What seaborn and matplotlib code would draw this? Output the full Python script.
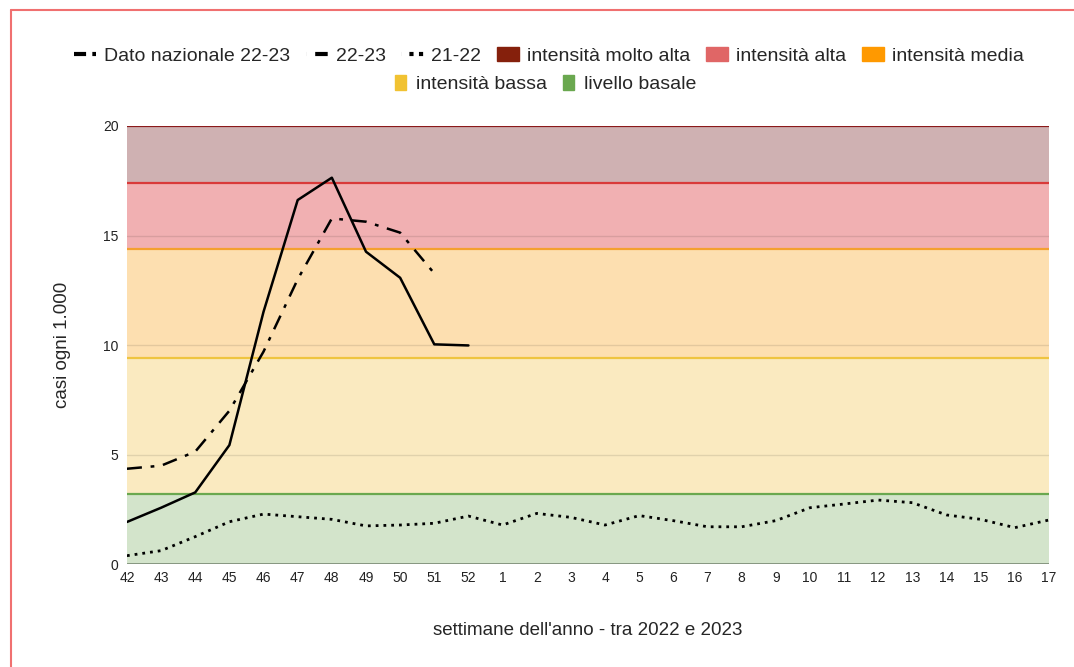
import numpy as np
import pandas as pd
import matplotlib.pyplot as plt
import seaborn as sns
from matplotlib.lines import Line2D
from matplotlib.patches import Patch

# weeks on the x axis
weeks = ['42', '43', '44', '45', '46', '47', '48', '49', '50', '51', '52',
         '1', '2', '3', '4', '5', '6', '7', '8', '9', '10', '11', '12', '13',
         '14', '15', '16', '17']

# series
nazionale_2223 = [4.35, 4.49, 5.13, 7.0, 9.7, 13.0, 15.78, 15.63, 15.13, 13.27]
regione_2223 = [1.92, 2.57, 3.27, 5.43, 11.52, 16.62, 17.64, 14.26, 13.07, 10.03, 9.98]
regione_2122 = [0.38, 0.61, 1.25, 1.93, 2.28, 2.16, 2.04, 1.74, 1.78, 1.86, 2.19,
                1.78, 2.31, 2.13, 1.78, 2.21, 1.98, 1.70, 1.70, 1.98, 2.57, 2.74,
                2.92, 2.80, 2.24, 2.04, 1.66, 2.01]

# intensity thresholds
soglie = [0, 3.2, 9.4, 14.4, 17.4, 20]
livelli = ['livello basale', 'intensità bassa', 'intensità media',
           'intensità alta', 'intensità molto alta']
col_linea = ['#6aa84f', '#f1c232', '#ff9900', '#e06666', '#85200c']
col_fill = ['#d3e4cb', '#faeac0', '#fddfb0', '#f1b0b2', '#cfb1b2']
col_bordo = ['#6aa84f', '#efc440', '#f4a030', '#d93a3a', '#8b1a1a']

sns.set_style('white')
plt.rcParams['font.family'] = ['Liberation Sans', 'DejaVu Sans']

fig, ax = plt.subplots(figsize=(10.74, 6.67), dpi=100)
fig.subplots_adjust(left=0.1182, right=0.9767, top=0.8111, bottom=0.1544)

for i in range(5):
    ax.axhspan(soglie[i], soglie[i + 1], color=col_fill[i], lw=0, zorder=0)
    ax.axhline(soglie[i + 1], color=col_bordo[i], lw=1.6, zorder=1)
for g in [5, 10, 15]:
    ax.axhline(g, color='black', alpha=0.1, lw=1, zorder=1)
ax.axhline(0, color='#7f8f7a', lw=2, zorder=1)

df_naz = pd.DataFrame({'x': range(len(nazionale_2223)), 'y': nazionale_2223})
df_23 = pd.DataFrame({'x': range(len(regione_2223)), 'y': regione_2223})
df_22 = pd.DataFrame({'x': range(len(regione_2122)), 'y': regione_2122})

sns.lineplot(data=df_naz, x='x', y='y', ax=ax, color='black', lw=1.8,
             zorder=3).lines[-1].set_dashes([6, 3.5, 1.5, 3.5])
sns.lineplot(data=df_23, x='x', y='y', ax=ax, color='black', lw=1.8, zorder=3)
l22 = sns.lineplot(data=df_22, x='x', y='y', ax=ax, color='black', lw=2, zorder=3).lines[-1]
l22.set_linestyle((0, (1, 1.8)))

ax.set_xlim(0, len(weeks) - 1)
ax.set_ylim(0, 20)
ax.set_xticks(range(len(weeks)))
ax.set_xticklabels(weeks)
ax.set_yticks([0, 5, 10, 15, 20])
ax.tick_params(axis='both', length=0, labelsize=10, colors='#222222')
ax.tick_params(axis='x', pad=5)
ax.tick_params(axis='y', pad=6)
for s in ax.spines.values():
    s.set_visible(False)

ax.set_xlabel("settimane dell'anno - tra 2022 e 2023", fontsize=13.5, labelpad=27)
ax.set_ylabel('casi ogni 1.000', fontsize=13.5, labelpad=23)

# legend in two centered rows
h1 = [Line2D([], [], color='black', lw=3, dashes=[2.9, 1.5, 1, 8]),
      Line2D([], [], color='black', lw=3, dashes=[0.01, 2.2, 3, 10]),
      Line2D([], [], color='black', lw=3, dashes=[0.01, 2.0, 1, 1.3, 1, 10]),
      Patch(color=col_linea[4]), Patch(color=col_linea[3]), Patch(color=col_linea[2])]
t1 = ['Dato nazionale 22-23', '22-23', '21-22',
      livelli[4], livelli[3], livelli[2]]
fig.legend(h1, t1, loc='center', bbox_to_anchor=(0.511, 0.916), ncol=6,
           frameon=False, fontsize=14, handlelength=1.15, handleheight=0.75,
           handletextpad=0.4, columnspacing=0.8)
h2 = [Patch(color=col_linea[1]), Patch(color=col_linea[0])]
fig.legend(h2, [livelli[1], livelli[0]], loc='center', bbox_to_anchor=(0.508, 0.874),
           ncol=2, frameon=False, fontsize=14, handlelength=0.6, handleheight=0.8,
           handletextpad=0.5, columnspacing=0.8)

# border of the original card
fig.add_artist(Line2D([0.0098, 0.0098], [0, 0.985], transform=fig.transFigure,
                      color='#f07070', lw=1.5))
fig.add_artist(Line2D([0.0098, 1], [0.985, 0.985], transform=fig.transFigure,
                      color='#f07070', lw=1.5))

fig.savefig('out.png', dpi=100)
